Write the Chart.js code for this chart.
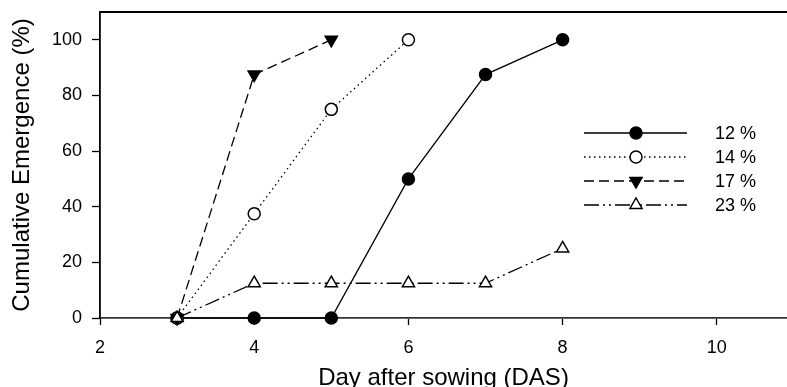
<!DOCTYPE html>
<html>
<head>
<meta charset="utf-8">
<script src="https://cdn.jsdelivr.net/npm/chart.js@4"></script>
<style>
  html, body { margin: 0; padding: 0; background: #fff; }
  #wrap { width: 787px; height: 387px; }
</style>
</head>
<body>
<div id="wrap"><canvas id="plotEmergence" width="787" height="387"></canvas></div>
<script>
// Days after sowing and cumulative emergence (%) per moisture level
const days = [3, 4, 5, 6, 7, 8];
const em12 = [0, 0, 0, 50, 87.5, 100];
const em14 = [0, 37.5, 75, 100];
const em17 = [0, 87.5, 100];
const em23 = [0, 12.5, 12.5, 12.5, 12.5, 25];
const seriesLabels = ['12 %', '14 %', '17 %', '23 %'];
const xTicks = [2, 4, 6, 8, 10];
const yTicks = [0, 20, 40, 60, 80, 100];

const FONT = "'Liberation Sans', Arial, sans-serif";

function points(ys) {
  return ys.map((y, i) => ({ x: days[i], y: y }));
}

// marker look for each series, also used by the legend
const STYLES = [
  { dash: [], point: 'circle', rot: 0, fill: '#000' },
  { dash: [1.5, 3.5], point: 'circle', rot: 0, fill: '#fff' },
  { dash: [10, 5], point: 'triangle', rot: 180, fill: '#000' },
  { dash: [15, 4, 2, 4, 2, 4], point: 'triangle', rot: 0, fill: '#fff' }
];

function dataset_new(ys, k) {
  const s = STYLES[k];
  return {
    label: seriesLabels[k],
    data: points(ys),
    showLine: true,
    borderColor: '#000',
    borderWidth: 1.3,
    borderDash: s.dash,
    pointStyle: s.point,
    rotation: s.rot,
    pointRadius: s.point === 'circle' ? 6 : 7,
    pointBackgroundColor: s.fill,
    pointBorderColor: '#000',
    pointBorderWidth: 1.5,
    clip: false,
    order: 4 - k
  };
}

// legend with a line sample and the marker in its middle
const lineLegend = {
  id: 'lineLegend',
  afterDatasetsDraw(chart) {
    const ctx = chart.ctx;
    const x0 = 584, x1 = 687, xm = 636, xt = 715;
    const rows = [133, 157, 181, 205];
    ctx.save();
    for (var k = 0; k < 4; k++) {
      const s = STYLES[k];
      const y = rows[k];
      ctx.strokeStyle = '#000';
      ctx.lineWidth = 1.3;
      ctx.setLineDash(s.dash);
      ctx.beginPath();
      ctx.moveTo(x0, y);
      ctx.lineTo(x1, y);
      ctx.stroke();
      ctx.setLineDash([]);
      ctx.lineWidth = 1.5;
      ctx.fillStyle = s.fill;
      ctx.beginPath();
      if (s.point === 'circle') {
        ctx.arc(xm, y, 6, 0, Math.PI * 2);
      } else {
        const r = 7, dir = s.rot ? -1 : 1;
        ctx.moveTo(xm, y - dir * r);
        ctx.lineTo(xm + r * 0.866, y + dir * r * 0.5);
        ctx.lineTo(xm - r * 0.866, y + dir * r * 0.5);
        ctx.closePath();
      }
      ctx.fill();
      ctx.stroke();
      ctx.fillStyle = '#000';
      ctx.font = '18px ' + FONT;
      ctx.textBaseline = 'middle';
      ctx.textAlign = 'left';
      ctx.fillText(seriesLabels[k], xt, y + 1);
    }
    ctx.restore();
  }
};

// fixed axis boxes, no extra label padding
function fixBox(w, h) {
  return (scale) => {
    if (w !== null) scale.width = w;
    if (h !== null) scale.height = h;
    scale.paddingTop = 0;
    scale.paddingBottom = 0;
    scale.paddingLeft = 0;
    scale.paddingRight = 0;
  };
}

const config = {
  type: 'scatter',
  data: {
    datasets: [
      dataset_new(em12, 0),
      dataset_new(em14, 1),
      dataset_new(em17, 2),
      dataset_new(em23, 3)
    ]
  },
  options: {
    responsive: false,
    animation: false,
    layout: { padding: 0, autoPadding: false },
    plugins: {
      legend: { display: false },
      title: { display: false },
      tooltip: { enabled: false }
    },
    scales: {
      x: {
        type: 'linear',
        position: 'bottom',
        min: 2,
        max: 10.91,
        afterBuildTicks: (scale) => { scale.ticks = xTicks.map(v => ({ value: v })); },
        afterFit: fixBox(null, 69),
        grid: { drawOnChartArea: false, drawTicks: true, tickLength: 7, tickColor: '#000', tickWidth: 1.3 },
        border: { display: true, color: '#333', width: 1.8 },
        ticks: { color: '#000', padding: 12, maxRotation: 0, font: { family: FONT, size: 18 } },
        title: {
          display: true,
          text: 'Day after sowing (DAS)',
          color: '#000',
          font: { family: FONT, size: 24, lineHeight: 1 },
          padding: { top: 0, bottom: -3 }
        }
      },
      xTop: {
        type: 'linear',
        position: 'top',
        min: 2,
        max: 10.91,
        afterFit: fixBox(null, 12),
        grid: { drawOnChartArea: false, drawTicks: false },
        border: { display: true, color: '#000', width: 2 },
        ticks: { display: false }
      },
      y: {
        type: 'linear',
        position: 'left',
        min: 0,
        max: 110,
        afterBuildTicks: (scale) => { scale.ticks = yTicks.map(v => ({ value: v })); },
        afterFit: fixBox(100, null),
        grid: { drawOnChartArea: false, drawTicks: true, tickLength: 8, tickColor: '#000', tickWidth: 1.3 },
        border: { display: true, color: '#000', width: 1.8 },
        ticks: { color: '#000', padding: 10, font: { family: FONT, size: 18 } },
        title: {
          display: true,
          text: 'Cumulative Emergence (%)',
          color: '#000',
          font: { family: FONT, size: 24, lineHeight: 1 },
          padding: { top: 10, bottom: 0 }
        }
      }
    }
  },
  plugins: [lineLegend]
};

var ctx1 = document.getElementById('plotEmergence');
chart1 = new Chart(ctx1, config);
</script>
</body>
</html>
